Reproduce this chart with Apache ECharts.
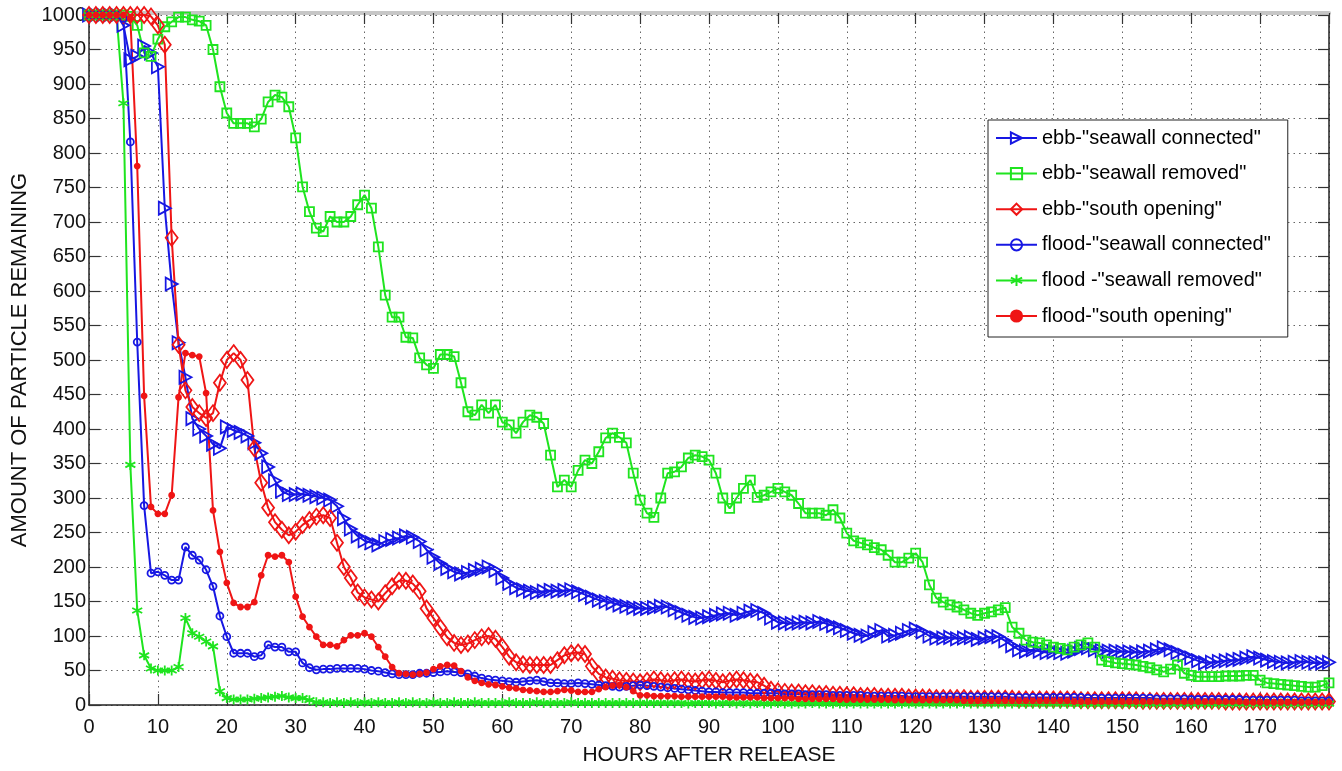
<!DOCTYPE html>
<html>
<head>
<meta charset="utf-8">
<script src="https://cdn.jsdelivr.net/npm/echarts@6/dist/echarts.min.js"></script>
<style>
  html, body { margin: 0; padding: 0; background: #fff; }
  #main { width: 1342px; height: 771px; }
</style>
</head>
<body>
<div id="main"></div>
<script>
// hours after release, one sample per hour
const hours = Array.from({ length: 181 }, (_, i) => i);
const xTicks = [0, 10, 20, 30, 40, 50, 60, 70, 80, 90, 100, 110, 120, 130, 140, 150, 160, 170];

const ebbConnected = [
  1000, 1000, 1000, 1000, 1000, 985, 935, 940, 955, 945,
  925, 720, 610, 525, 475, 415, 400, 390, 378, 372,
  403, 398, 395, 390, 380, 365, 345, 325, 310, 305,
  305, 306, 304, 302, 300, 297, 288, 270, 255, 245,
  238, 235, 232, 237, 240, 242, 245, 243, 237, 225,
  214, 205, 198, 193, 190, 192, 195, 197, 200, 195,
  184, 176, 170, 167, 165, 163, 165, 166, 165, 166,
  167, 164, 160, 156, 152, 150, 148, 145, 143, 141,
  140, 140, 141, 143, 142, 138, 134, 130, 127, 126,
  128, 130, 132, 133, 130, 133, 136, 137, 133, 126,
  120, 119, 118, 119, 120, 119, 121, 118, 115, 112,
  108, 104, 101, 100, 105, 108, 100, 101, 104, 108,
  110, 106, 100, 97, 97, 98, 96, 97, 98, 95,
  97, 99, 99, 93, 86, 80, 78, 80, 78, 76,
  77, 76, 75, 78, 82, 83, 80, 79, 78, 78,
  77, 77, 76, 77, 78, 80, 83, 80, 76, 72,
  68, 64, 61, 62, 63, 64, 65, 66, 68, 70,
  68, 65, 63, 62, 61, 62, 63, 62, 61, 61,
  62
];

const ebbRemoved = [
  1000, 1000, 1000, 1000, 1000, 1000, 998, 985, 945, 940,
  965, 983, 990, 997, 997, 993, 991, 985, 950, 896,
  858, 843, 843, 843, 838, 849, 874, 884, 881, 867,
  822, 751, 715, 691, 686, 708, 700, 700, 708, 725,
  739, 720, 664, 594, 562, 562, 533, 532, 503, 493,
  488, 508, 508, 505, 467, 425, 420, 435, 423, 435,
  410, 406, 394, 410, 420, 417, 408, 362, 316, 326,
  316, 340, 355, 350, 367, 387, 394, 388, 380, 336,
  297, 278, 272, 300, 336, 338, 345, 358, 362, 360,
  355, 336, 300, 285, 300, 314, 326, 301, 304, 309,
  314, 309, 304, 292, 278, 278, 278, 275, 283, 271,
  249, 238, 235, 232, 228, 225, 217, 207, 207, 213,
  220, 207, 174, 155, 149, 145, 142, 138, 133, 130,
  133, 135, 138, 141, 113, 104, 94, 91, 90, 87,
  84, 82, 80, 84, 87, 90, 84, 65, 63, 61,
  60, 59, 58, 56, 54, 51, 48, 52, 58, 46,
  43, 41, 41, 41, 41, 42, 42, 42, 43, 43,
  36, 32, 31, 30, 29, 28, 27, 26, 26, 28,
  32
];

const ebbSouth = [
  1000, 1000, 1000, 1000, 1000, 1000, 1000, 1000, 1000, 998,
  985, 957, 677, 522, 456, 432, 423, 416, 423, 467,
  500, 510, 500, 471, 372, 322, 286, 265, 254, 246,
  251, 261, 268, 273, 275, 271, 235, 200, 184, 163,
  156, 153, 150, 162, 172, 180, 180, 176, 165, 140,
  126, 112, 98, 90, 87, 89, 94, 98, 100, 96,
  84, 70, 62, 59, 58, 58, 58, 58, 65, 72,
  75, 76, 74, 56, 45, 40, 38, 36, 35, 34,
  33, 35, 37, 36, 34, 36, 37, 35, 34, 36,
  37, 35, 33, 35, 37, 36, 34, 33, 28, 22,
  20, 19, 18, 18, 17, 17, 16, 16, 15, 15,
  14, 14, 13, 13, 13, 12, 12, 12, 12, 11,
  11, 11, 11, 10, 10, 10, 10, 10, 9, 9,
  9, 9, 9, 9, 9, 8, 8, 8, 8, 8,
  8, 8, 8, 8, 7, 7, 7, 7, 7, 7,
  7, 7, 7, 6, 6, 6, 6, 6, 6, 6,
  6, 6, 6, 6, 6, 5, 5, 5, 5, 5,
  5, 5, 5, 5, 5, 5, 5, 5, 5, 5,
  5
];

const floodConnected = [
  1000, 1000, 1000, 1000, 1000, 995, 816, 526, 289, 191,
  193, 188, 181, 181, 229, 217, 210, 196, 172, 129,
  99, 75, 75, 75, 70, 72, 87, 84, 84, 77,
  77, 61, 54, 51, 52, 52, 53, 53, 53, 53,
  52, 50, 49, 47, 45, 44, 44, 44, 46, 46,
  47, 48, 49, 48, 47, 45, 42, 39, 37, 36,
  35, 34, 33, 34, 35, 36, 34, 32, 32, 31,
  31, 32, 31, 30, 29, 28, 27, 26, 27, 28,
  29, 28, 27, 26, 25, 24, 23, 22, 21, 20,
  19, 19, 18, 18, 18, 18, 17, 17, 17, 17,
  17, 16, 16, 16, 15, 15, 15, 15, 14, 14,
  14, 14, 14, 13, 13, 13, 13, 13, 13, 12,
  12, 12, 12, 12, 12, 12, 12, 12, 12, 12,
  12, 12, 12, 12, 11, 11, 11, 11, 11, 11,
  11, 11, 11, 11, 11, 10, 10, 10, 10, 10,
  10, 10, 10, 10, 10, 9, 9, 9, 9, 9,
  8, 8, 8, 8, 8, 8, 8, 8, 7, 7,
  7, 7, 7, 7, 7, 7, 6, 6, 6, 6,
  6
];

const floodRemoved = [
  1000, 1000, 1000, 1000, 1000, 872, 348, 137, 72, 53,
  50, 50, 50, 55, 126, 104, 99, 92, 85, 20,
  10, 8, 8, 8, 9, 10, 11, 12, 13, 11,
  10, 10, 7, 4, 4, 3, 4, 3, 4, 3,
  4, 3, 4, 3, 3, 4, 3, 4, 3, 3,
  4, 3, 3, 4, 3, 3, 4, 3, 3, 3,
  3, 4, 3, 3, 3, 4, 3, 3, 3, 3,
  4, 3, 3, 3, 3, 3, 3, 3, 3, 3,
  3, 3, 3, 3, 3, 3, 3, 2, 3, 3,
  3, 2, 3, 3, 2, 3, 2, 3, 2, 2,
  3, 2, 2, 2, 2, 3, 2, 2, 2, 2,
  2, 2, 2, 2, 2, 2, 2, 2, 2, 2,
  2, 2, 2, 2, 2, 2, 2, 2, 2, 2,
  2, 2, 2, 2, 2, 2, 2, 2, 2, 2,
  2, 2, 2, 2, 2, 2, 2, 2, 2, 2,
  2, 2, 2, 2, 2, 2, 2, 2, 2, 2,
  2, 2, 2, 2, 2, 2, 2, 2, 2, 2,
  2, 2, 2, 2, 2, 2, 2, 2, 2, 2,
  2
];

const floodSouth = [
  1000, 1000, 1000, 1000, 1000, 1000, 995, 781, 448, 287,
  277, 277, 304, 446, 510, 507, 505, 452, 282, 222,
  177, 148, 142, 142, 149, 188, 217, 215, 217, 207,
  157, 128, 113, 99, 87, 87, 85, 94, 101, 101,
  104, 99, 84, 70, 55, 46, 45, 44, 45, 47,
  52, 56, 58, 57, 49, 40, 35, 32, 30, 29,
  27, 25, 24, 22, 21, 20, 19, 19, 20, 22,
  21, 19, 19, 19, 23, 26, 28, 29, 26, 20,
  14, 14, 13, 13, 13, 13, 12, 12, 12, 12,
  12, 12, 12, 11, 11, 11, 11, 11, 10, 10,
  10, 10, 10, 9, 9, 9, 9, 9, 9, 8,
  8, 8, 8, 8, 8, 8, 8, 7, 7, 7,
  7, 7, 7, 7, 7, 7, 7, 6, 6, 6,
  6, 6, 6, 6, 6, 6, 6, 6, 6, 6,
  6, 6, 6, 5, 5, 5, 5, 5, 5, 5,
  5, 5, 5, 5, 5, 5, 5, 5, 5, 5,
  5, 5, 5, 5, 5, 5, 5, 5, 4, 4,
  4, 4, 4, 4, 4, 4, 4, 4, 4, 4,
  4
];

const BLUE = '#1717e3';
const GREEN = '#1fe41f';
const RED = '#ef1515';
const FONT = 'Liberation Sans, Arial, sans-serif';

function pairs(vals) {
  return vals.map((v, i) => [hours[i], v]);
}

function lineSeries(name, vals, color, symbol, size, filled) {
  return {
    name: name,
    type: 'line',
    data: pairs(vals),
    symbol: symbol,
    symbolSize: size,
    showAllSymbol: true,
    lineStyle: { color: color, width: 2 },
    itemStyle: {
      color: filled ? color : 'rgba(255,255,255,0)',
      borderColor: color,
      borderWidth: 1.8
    },
    emphasis: { disabled: true }
  };
}

const chartDom = document.getElementById('main');
const myChart = echarts.init(chartDom);

const gridLine = { show: true, lineStyle: { color: '#666', type: [1.5, 4], width: 1 } };
const tickIn = { show: true, inside: true, length: 11, lineStyle: { color: '#333', width: 1.2 } };

const option = {
  animation: false,
  backgroundColor: '#fff',
  grid: { left: 89, right: 13, top: 15, bottom: 66, outerBoundsMode: 'none', containLabel: false },
  legend: {
    orient: 'vertical',
    left: 988,
    top: 120,
    padding: [7, 17, 10, 7],
    itemWidth: 41,
    itemHeight: 14,
    itemGap: 13.6,
    backgroundColor: '#fff',
    borderColor: '#222',
    borderWidth: 1,
    textStyle: { fontSize: 20, fontFamily: FONT, color: '#000', lineHeight: 22 }
  },
  xAxis: [
    {
      type: 'value',
      min: 0,
      max: 180,
      interval: 10,
      name: 'HOURS AFTER RELEASE',
      nameLocation: 'middle',
      nameGap: 40,
      nameTextStyle: { fontSize: 21, fontFamily: FONT, color: '#111' },
      axisLine: { show: true, onZero: false, lineStyle: { color: '#222', width: 1.5 } },
      axisTick: tickIn,
      axisLabel: {
        fontSize: 20, fontFamily: FONT, color: '#111', margin: 12,
        showMaxLabel: false,
        formatter: (v) => (xTicks.indexOf(v) >= 0 ? String(v) : '')
      },
      splitLine: gridLine
    },
    {
      type: 'value',
      position: 'top',
      min: 0,
      max: 180,
      interval: 10,
      offset: 2,
      axisLine: { show: true, onZero: false, lineStyle: { color: '#c6c6c6', width: 4 } },
      axisTick: tickIn,
      axisLabel: { show: false },
      splitLine: { show: false }
    }
  ],
  yAxis: [
    {
      type: 'value',
      min: 0,
      max: 1000,
      interval: 50,
      name: 'AMOUNT OF PARTICLE REMAINING',
      nameLocation: 'middle',
      nameGap: 58,
      nameTextStyle: { fontSize: 22, fontFamily: FONT, color: '#111' },
      axisLine: { show: true, onZero: false, lineStyle: { color: '#222', width: 1.5 } },
      axisTick: tickIn,
      axisLabel: {
        fontSize: 20, fontFamily: FONT, color: '#111', margin: 3,
        formatter: (v) => String(v)
      },
      splitLine: gridLine
    },
    {
      type: 'value',
      position: 'right',
      min: 0,
      max: 1000,
      interval: 50,
      axisLine: { show: true, onZero: false, lineStyle: { color: '#222', width: 1.5 } },
      axisTick: tickIn,
      axisLabel: { show: false },
      splitLine: { show: false }
    }
  ],
  series: [
    lineSeries('ebb-"seawall connected"', ebbConnected, BLUE, 'path://M0,0L10,5L0,10Z', [12, 13], false),
    lineSeries('ebb-"seawall removed"', ebbRemoved, GREEN, 'rect', 9, false),
    lineSeries('ebb-"south opening"', ebbSouth, RED, 'diamond', [12, 16], false),
    lineSeries('flood-"seawall connected"', floodConnected, BLUE, 'circle', 7, false),
    lineSeries('flood -"seawall removed"', floodRemoved, GREEN,
      'path://M5,0L5,10M0.7,2.5L9.3,7.5M0.7,7.5L9.3,2.5', 10, false),
    lineSeries('flood-"south opening"', floodSouth, RED, 'circle', 5, true)
  ]
};

option && myChart.setOption(option);
</script>
</body>
</html>
